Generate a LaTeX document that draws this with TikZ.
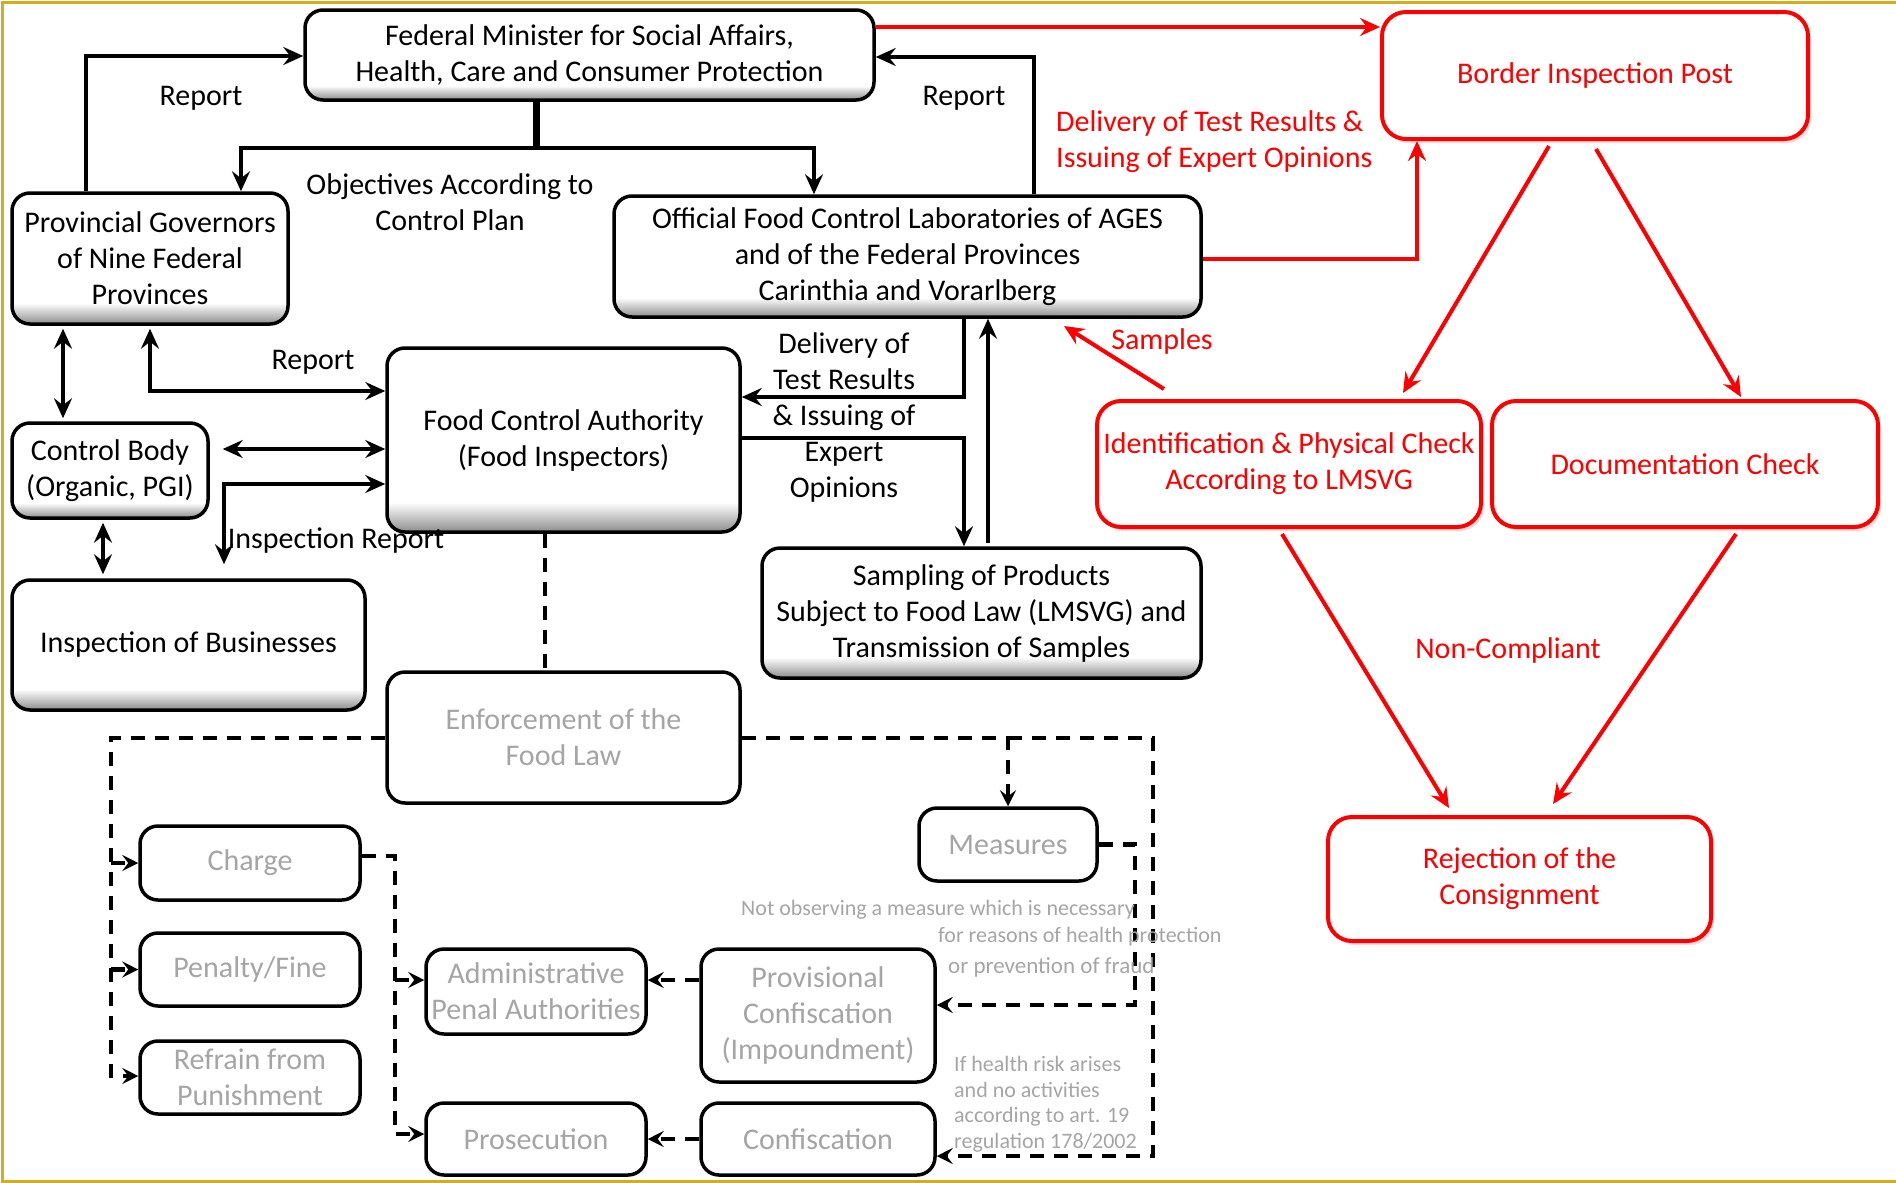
\documentclass[tikz,border=0pt]{standalone}
\usepackage{fontspec}
\setmainfont{Carlito}
\usetikzlibrary{arrows.meta,shadows}
\definecolor{bevg}{gray}{0.55}
\definecolor{gtext}{RGB}{165,165,165}
\definecolor{gold}{RGB}{212,172,30}
\definecolor{myred}{RGB}{255,0,0}
\pgfdeclareverticalshading{bevelsh}{100bp}{color(0bp)=(bevg); color(25bp)=(bevg); color(33bp)=(white); color(100bp)=(white)}
\begin{document}
\begin{tikzpicture}[x=1pt,y=-1pt,
  base/.style={rectangle, rounded corners=18pt, align=center, font=\fontsize{30}{36}\selectfont, inner sep=0pt},
  bbox/.style={base, draw=black, line width=3.5pt, shade, shading=bevelsh},
  rbox/.style={base, draw=myred, line width=4pt, fill=white, text=myred, rounded corners=24pt,
     drop shadow={shadow xshift=3pt, shadow yshift=-4pt, fill=red!30}},
  gbox/.style={base, draw=black, line width=3.5pt, fill=white, text=gtext},
  lab/.style={font=\fontsize{30}{36}\selectfont, align=center, inner sep=0pt},
  rlab/.style={lab, text=myred},
  glab/.style={font=\fontsize{22}{25.5}\selectfont, inner sep=0pt, text=gtext},
  conn/.style={line width=4.5pt, draw=black},
  tip/.tip={Stealth[length=20pt,width=18pt,inset=7pt]},
  stip/.tip={Stealth[length=16pt,width=16pt,inset=6pt]},
  arr/.style={conn, -tip},
  darr/.style={conn, tip-tip},
  rarr/.style={line width=4pt, draw=myred, -tip},
  dashl/.style={line width=4.5pt, dash pattern=on 14pt off 10pt},
  dasharr/.style={dashl, -stip}
]
\useasboundingbox (0,0) rectangle (1896,1183);
\draw[gold, line width=3pt] (1896,2) -- (2,2) -- (2,1181) -- (1896,1181);

% black boxes
\node[bbox, minimum width=569pt, minimum height=90pt] (fm) at (589.5,55) {Federal Minister for  Social Affairs,\\Health, Care and Consumer Protection};
\node[bbox, minimum width=276pt, minimum height=131pt] (pg) at (150,258.5) {Provincial Governors\\of Nine Federal\\Provinces};
\node[bbox, minimum width=587pt, minimum height=121pt] (labs) at (907.5,256.5) {Official Food Control Laboratories of AGES\\and of the Federal Provinces\\Carinthia and Vorarlberg};
\node[bbox, minimum width=196pt, minimum height=95pt] (cb) at (110,470.5) {Control Body\\(Organic, PGI)};
\node[bbox, minimum width=353pt, minimum height=184pt] (fca) at (563.5,440) {Food Control Authority\\(Food Inspectors)};
\node[bbox, minimum width=353pt, minimum height=130pt] (iob) at (188.5,645) {Inspection of Businesses};
\node[bbox, minimum width=439pt, minimum height=130pt] (samp) at (981.5,613) {Sampling of Products\\Subject to Food Law (LMSVG) and\\Transmission of Samples};

% red boxes
\node[rbox, minimum width=426pt, minimum height=127pt] (bip) at (1595,75.5) {Border Inspection Post};
\node[rbox, minimum width=384pt, minimum height=126pt] (ident) at (1289,464) {Identification \& Physical Check\\According to LMSVG};
\node[rbox, minimum width=386pt, minimum height=126pt] (doc) at (1685,464) {Documentation Check};
\node[rbox, minimum width=383pt, minimum height=124pt] (rej) at (1519.5,879) {Rejection of the\\Consignment};

% gray boxes
\node[gbox, minimum width=353pt, minimum height=131pt] (enf) at (563.5,737.5) {Enforcement of the\\Food Law};
\node[gbox, minimum width=220pt, minimum height=74pt] (charge) at (250,863) {Charge};
\node[gbox, minimum width=220pt, minimum height=73pt] (pen) at (250,969.5) {Penalty/Fine};
\node[gbox, minimum width=220pt, minimum height=73pt] (ref) at (250,1077.5) {Refrain from\\Punishment};
\node[gbox, minimum width=220pt, minimum height=85pt] (adm) at (536,991.5) {Administrative\\Penal Authorities};
\node[gbox, minimum width=234pt, minimum height=133pt] (prov) at (818,1015.5) {Provisional\\Confiscation\\(Impoundment)};
\node[gbox, minimum width=220pt, minimum height=72pt] (pros) at (536,1139) {Prosecution};
\node[gbox, minimum width=234pt, minimum height=72pt] (conf) at (818,1139) {Confiscation};
\node[gbox, minimum width=178pt, minimum height=73pt] (meas) at (1008,844.5) {Measures};

% helper coordinates
\coordinate (rA) at (86,56);
\coordinate (ob) at (536,148);
\coordinate (obL) at (241,148);
\coordinate (obR) at (814,148);
\coordinate (rB) at (1034,57);
\coordinate (r1) at (0,27);
\coordinate (rC) at (1417,259);
\coordinate (f1a) at (1549,146); \coordinate (f1b) at (1403,393);
\coordinate (f2a) at (1596,149); \coordinate (f2b) at (1741,397);
\coordinate (g1a) at (1282,534); \coordinate (g1b) at (1449,808);
\coordinate (g2a) at (1736,534); \coordinate (g2b) at (1553,804);
\coordinate (sa) at (1164,389); \coordinate (sb) at (1064,326);
\coordinate (i1) at (63,0);
\coordinate (j1) at (150,391);
\coordinate (k1) at (0,449);
\coordinate (l1) at (224,484);
\coordinate (m1) at (103,0);
\coordinate (n1) at (964,397);
\coordinate (o1) at (964,438);
\coordinate (p1) at (988,0);
\coordinate (q1) at (545,0);
\coordinate (e1) at (111,738);
\coordinate (e2) at (111,1076);
\coordinate (oc) at (1153,1156);
\coordinate (mc) at (1135,1005);
\coordinate (u1) at (0,980);
\coordinate (w0) at (395,856);
\coordinate (w2) at (395,1134);
\coordinate (w3) at (395,980);

% black connectors
\draw[arr] (pg.north -| rA) |- (fm.west |- rA);
\draw[line width=7pt] (fm.south -| ob) -- (ob);
\draw[arr] (ob) -| (pg.north -| obL);
\draw[arr] (ob) -| (labs.north -| obR);
\draw[arr] (labs.north -| rB) |- (fm.east |- rB);
\draw[darr, shorten <=3pt, shorten >=3pt] (pg.south -| i1) -- (cb.north -| i1);
\draw[darr, shorten <=3pt] (pg.south -| j1) |- (fca.west |- j1);
\draw[darr, shorten <=13pt] (cb.east |- k1) -- (fca.west |- k1);
\draw[darr, shorten <=14pt] (iob.north -| l1) |- (fca.west |- l1);
\draw[darr, shorten <=3pt, shorten >=4pt] (cb.south -| m1) -- (iob.north -| m1);
\draw[arr] (labs.south -| n1) |- (fca.east |- n1);
\draw[arr] (fca.east |- o1) -| (samp.north -| o1);
\draw[arr, shorten <=3pt] (samp.north -| p1) -- (labs.south -| p1);

% red connectors
\draw[rarr] (fm.east |- r1) -- (bip.west |- r1);
\draw[rarr] (labs.east |- rC) -| (bip.south -| rC);
\draw[rarr] (f1a) -- (f1b);
\draw[rarr] (f2a) -- (f2b);
\draw[rarr] (g1a) -- (g1b);
\draw[rarr] (g2a) -- (g2b);
\draw[rarr] (sa) -- (sb);

% dashed connectors
\draw[dashl] (fca.south -| q1) -- (enf.north -| q1);
\draw[dasharr] (enf.west |- e1) -| (e2) -- (ref.west |- e2);
\draw[dasharr] (charge.west -| e1) -- (charge.west);
\draw[dasharr] (pen.west -| e1) -- (pen.west);
\draw[dasharr] (enf.east |- e1) -| (meas.north);
\draw[dasharr] (meas.north |- e1) -| (oc) -- (conf.east |- oc);
\draw[dasharr] (meas.east) -| (mc) -- (prov.east |- mc);
\draw[dasharr] (prov.west |- u1) -- (adm.east |- u1);
\draw[dasharr] (conf.west) -- (pros.east);
\draw[dasharr] (charge.east |- w0) -| (w2) -- (pros.west |- w2);
\draw[dasharr] (w3) -- (adm.west |- w3);

% labels
\node[lab] (l_rep1) at (201,98) {Report};
\node[lab] (l_obj) at (450,202) {Objectives According  to\\Control Plan};
\node[lab] (l_rep2) at (964,98) {Report};
\node[rlab, align=left, anchor=west] (l_del) at (1056,141.5) {Delivery  of Test Results \&\\Issuing of Expert Opinions};
\node[rlab] (l_samp) at (1162,341) {Samples};
\node[rlab] (l_nc) at (1508,650) {Non-Compliant};
\node[lab] (l_rep3) at (313,362) {Report};
\node[lab] (l_insp) at (336,541) {Inspection Report};
\node[lab] (l_del2) at (844,417.5) {Delivery  of\\Test Results\\\& Issuing  of\\Expert\\Opinions};
\node[glab] (l_not) at (938,910) {Not observing a measure which is necessary};
\node[glab, anchor=west] (l_for) at (938,937) {for reasons  of health protection};
\node[glab, anchor=west, font=\fontsize{23}{26}\selectfont] (l_or) at (948,967) {or prevention of fraud};
\node[glab, anchor=west, align=left] (l_if) at (954,1104) {If health risk arises\\and no activities\\according to art. 19\\regulation 178/2002};
\end{tikzpicture}
\end{document}
